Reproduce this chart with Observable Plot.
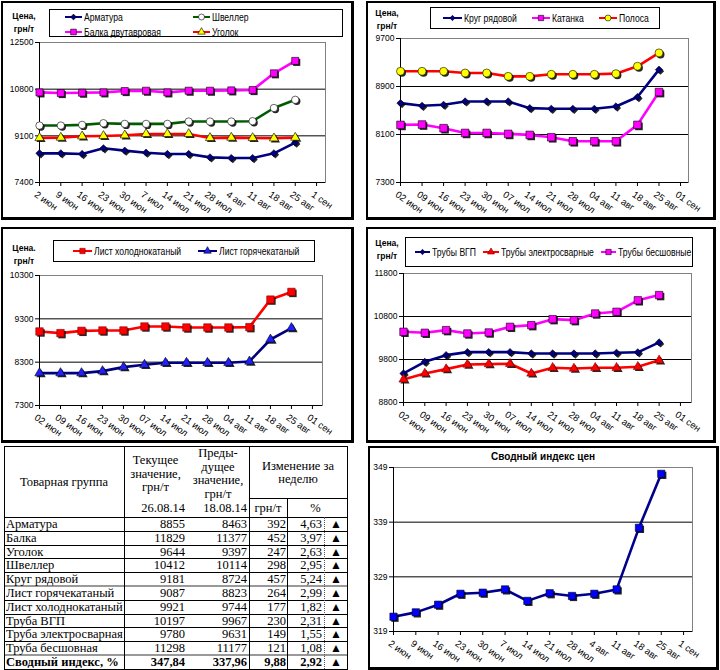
<!DOCTYPE html>
<html><head><meta charset="utf-8">
<script src="https://cdn.jsdelivr.net/npm/d3@7"></script>
<script src="https://cdn.jsdelivr.net/npm/@observablehq/plot@0.6"></script>
<style>
body{margin:0;background:#fff}
#root{position:relative;width:720px;height:670px;overflow:hidden;font-family:Arial,"Liberation Sans",sans-serif;color:#000}
.panel{position:absolute;box-sizing:border-box;border:2px solid #000;border-right-width:3px;border-bottom-width:3px}
.t{position:absolute;white-space:nowrap}
.lg{position:absolute;box-sizing:border-box;border:1px solid #000;background:#fff}
.ylab{position:absolute;font-weight:bold;font-size:9.5px;line-height:13px;text-align:center;transform:scaleX(.9)}
.tb{position:absolute;white-space:nowrap;font-family:"Liberation Serif","Times New Roman","DejaVu Serif",serif !important;font-size:12.5px;line-height:13px}
</style></head>
<body><div id="root"></div>
<script>
// ---------- data ----------
const dates = ["2 июн","9 июн","16 июн","23 июн","30 июн","7 июл","14 июл","21 июл","28 июл","4 авг","11 авг","18 авг","25 авг","1 сен"];
const dates0 = ["02 июн","09 июн","16 июн","23 июн","30 июн","07 июл","14 июл","21 июл","28 июл","04 авг","11 авг","18 авг","25 авг","01 сен"];

const armatura = [8462,8462,8437,8645,8560,8486,8437,8437,8315,8291,8291,8463,8855];
const shveller = [9474,9474,9499,9560,9535,9535,9535,9621,9621,9621,9633,10114,10412];
const balka    = [10682,10658,10670,10682,10731,10743,10682,10743,10743,10755,10767,11377,11829];
const ugolok   = [9023,9035,9084,9096,9121,9169,9169,9169,9023,9035,9023,9011,9035];
const ticks1   = [7400,9100,10800,12500];

const krug     = [8623,8578,8595,8651,8651,8651,8539,8528,8528,8528,8567,8724,9181];
const katanka  = [8260,8266,8205,8126,8126,8110,8093,8054,7987,7987,7987,8260,8807];
const polosa   = [9153,9153,9153,9125,9125,9069,9069,9103,9103,9103,9114,9237,9460];
const ticks2   = [7300,8100,8900,9700];

const listHol  = [9008,8970,9023,9031,9031,9123,9123,9100,9100,9100,9108,9744,9921];
const listGor  = [8047,8047,8047,8093,8185,8239,8285,8285,8285,8285,8316,8823,9087];
const ticks3   = [7300,8300,9300,10300];

const trubyVgp = [9475,9746,9901,9971,9971,9971,9940,9940,9940,9940,9956,9967,10197];
const trubyEl  = [9336,9475,9576,9684,9692,9700,9475,9607,9591,9607,9607,9631,9780];
const trubyBes = [10444,10421,10483,10405,10428,10560,10599,10738,10715,10870,10909,11177,11298];
const ticks4   = [8800,9800,10800,11800];

const indexVals = [321.7,322.5,323.9,325.9,326.1,326.7,324.6,326.0,325.5,325.9,326.7,337.96,347.84];
const ticks6   = [319,329,339,349];

const groups   = ["Арматура","Балка","Уголок","Швеллер","Круг рядовой","Лист горячекатаный","Лист холоднокатаный","Труба ВГП","Труба электросварная","Труба бесшовная","Сводный индекс, %"];
const current  = ["8855","11829","9644","10412","9181","9087","9921","10197","9780","11298","347,84"];
const previous = ["8463","11377","9397","10114","8724","8823","9744","9967","9631","11177","337,96"];
const changeAbs= ["392","452","247","298","457","264","177","230","149","121","9,88"];
const changePct= ["4,63","3,97","2,63","2,95","5,24","2,99","1,82","2,31","1,55","1,08","2,92"];

// ---------- helpers ----------
const root = document.getElementById("root");
const FONT = 'Arial,"Liberation Sans",sans-serif';
const SERIF = '"Liberation Serif","Times New Roman","DejaVu Serif",serif';
function el(cls, css, html){const d=document.createElement("div");d.className=cls;Object.assign(d.style,css);if(html!=null)d.innerHTML=html;root.appendChild(d);return d;}
const px = v => v + "px";
const symType = {square:d3.symbolSquare, circle:d3.symbolCircle, triangle:d3.symbolTriangle, diamond2:d3.symbolDiamond2};

function panel(l,t,r,b){el("panel",{left:px(l),top:px(t),width:px(r-l),height:px(b-t)});}

function legend(box, items){
  el("lg",{left:px(box[0]),top:px(box[1]),width:px(box[2]-box[0]),height:px(box[3]-box[1])});
  for(const it of items){
    const [x1,x2,tx,cy] = it.pos;
    const s = d3.create("svg").attr("width",x2-x1+8).attr("height",14)
      .style("position","absolute").style("left",px(x1-4)).style("top",px(cy-7)).style("overflow","visible");
    s.append("line").attr("x1",4).attr("x2",x2-x1+4).attr("y1",7).attr("y2",7).attr("stroke",it.color).attr("stroke-width",2);
    const m=(x2-x1)/2+4;
    s.append("path").attr("d",d3.symbol().type(symType[it.symbol]).size(Math.PI*it.lr*it.lr)())
      .attr("transform",`translate(${m},7)`).attr("fill",it.fill).attr("stroke",it.mstroke||"#000").attr("stroke-width",0.6);
    root.appendChild(s.node());
    el("t",{left:px(tx),top:px(cy-6.5),fontSize:"10.5px",lineHeight:"12px",transform:"scaleX(.82)",transformOrigin:"left center"},it.name);
  }
}

function chart(cfg){
  const {left,top,width,height,ml,mr,mt,mb,ticks,labels,series,xMax} = cfg;
  const marks = [
    Plot.frame({stroke:"#808080"}),
    Plot.ruleY(ticks.slice(1,-1),{stroke:"#000",strokeWidth:1}),
    Plot.axisY({ticks, tickSize:4, tickPadding:2, label:null, fontSize:8.5, tickFormat:d=>String(d)}),
    Plot.axisX({ticks:d3.range(labels.length), tickSize:4, tickFormat:()=>"", label:null}),
    Plot.ruleX([0],{stroke:"#000"}),
    Plot.ruleY([ticks[0]],{stroke:"#000"}),
    Plot.text(labels,{x:(d,i)=>i, frameAnchor:"bottom", text:d=>d, rotate:35, textAnchor:"start", lineAnchor:"top", dx:-2, dy:8, fontSize:9.5})
  ];
  for(const s of series){
    const data = s.values.map((v,i)=>({i,v}));
    marks.push(Plot.line(data,{x:"i",y:"v",stroke:s.color,strokeWidth:s.sw||2.6}));
  }
  for(const s of series){
    const data = s.values.map((v,i)=>({i,v}));
    marks.push(Plot.dot(data,{x:"i",y:"v",symbol:s.symbol,r:s.r,fill:"#000",fillOpacity:0.85,dx:1.5,dy:1.5}));
    marks.push(Plot.dot(data,{x:"i",y:"v",symbol:s.symbol,r:s.r,fill:s.fill,stroke:s.mstroke||"#000",strokeWidth:0.6}));
  }
  const svg = Plot.plot({
    width, height, marginLeft:ml, marginRight:mr, marginTop:mt, marginBottom:mb,
    x:{domain:[0,xMax], axis:null}, y:{domain:[ticks[0],ticks[ticks.length-1]], axis:null},
    style:{fontFamily:FONT, fontSize:"9px", background:"transparent", color:"#000", overflow:"visible"},
    marks
  });
  svg.style.position="absolute"; svg.style.left=px(left); svg.style.top=px(top);
  root.appendChild(svg);
}

const NAVY="#000080", BLUE="#0000ff", MAG="#ff00ff", RED="#ff0000", YEL="#ffff00", GRN="#005a00";

// ---------- panels ----------
panel(1,1,354,220);
panel(366,1,716,220);
panel(1,227,354,443);
panel(366,227,716,443);
panel(368,446,719,670);

// Panel 1
chart({left:0,top:0,width:360,height:220,ml:39,mr:35,mt:42,mb:38,ticks:ticks1,labels:dates,xMax:13.42,
  series:[
    {values:armatura,color:NAVY,symbol:"diamond2",r:3.3,fill:NAVY},
    {values:shveller,color:GRN,symbol:"circle",r:3.7,fill:"#fff"},
    {values:balka,color:MAG,symbol:"square",r:4,fill:MAG},
    {values:ugolok,color:RED,symbol:"triangle",r:3.4,fill:YEL}
  ]});
el("ylab",{left:px(9),top:px(9),width:px(30)},"Цена,<br>грн/т");
legend([49,9,343,37],[
  {name:"Арматура",pos:[65,82,84,17],color:NAVY,symbol:"diamond2",lr:2.6,fill:NAVY},
  {name:"Швеллер",pos:[193,210,212,17],color:GRN,symbol:"circle",lr:3,fill:"#fff"},
  {name:"Балка двутавровая",pos:[65,82,84,32],color:MAG,symbol:"square",lr:3.2,fill:MAG},
  {name:"Уголок",pos:[193,210,212,32],color:RED,symbol:"triangle",lr:2.8,fill:YEL}
]);

// Panel 2
chart({left:360,top:0,width:360,height:220,ml:40,mr:32,mt:38,mb:38,ticks:ticks2,labels:dates0,xMax:13.37,
  series:[
    {values:polosa,color:RED,symbol:"circle",r:4,fill:YEL},
    {values:krug,color:NAVY,symbol:"diamond2",r:3.3,fill:NAVY},
    {values:katanka,color:MAG,symbol:"square",r:4.3,fill:MAG}
  ]});
el("ylab",{left:px(372),top:px(6),width:px(30)},"Цена,<br>грн/т");
legend([430,7,660,29],[
  {name:"Круг рядовой",pos:[443,462,464,18],color:NAVY,symbol:"diamond2",lr:2.4,fill:NAVY},
  {name:"Катанка",pos:[532,550,552,18],color:MAG,symbol:"square",lr:3,fill:MAG},
  {name:"Полоса",pos:[599,617,619,18],color:RED,symbol:"circle",lr:3,fill:YEL}
]);

// Panel 3
chart({left:0,top:225,width:360,height:220,ml:39,mr:38,mt:50,mb:40,ticks:ticks3,labels:dates0,xMax:13.48,
  series:[
    {values:listHol,color:RED,symbol:"square",r:4.2,fill:RED,mstroke:"#800000"},
    {values:listGor,color:NAVY,symbol:"triangle",r:3.5,fill:"#2020ff"}
  ]});
el("ylab",{left:px(9),top:px(241),width:px(30)},"Цена.<br>грн/т");
legend([53,240,315,262],[
  {name:"Лист холоднокатаный",pos:[73,92,94,251],color:RED,symbol:"square",lr:3,fill:RED,mstroke:"#800000"},
  {name:"Лист горячекатаный",pos:[198,217,219,251],color:NAVY,symbol:"triangle",lr:2.8,fill:"#2020ff"}
]);

// Panel 4
chart({left:360,top:225,width:360,height:220,ml:43,mr:29,mt:48,mb:43,ticks:ticks4,labels:dates0,xMax:13.52,
  series:[
    {values:trubyBes,color:MAG,symbol:"square",r:4.2,fill:MAG},
    {values:trubyVgp,color:NAVY,symbol:"diamond2",r:3.3,fill:NAVY},
    {values:trubyEl,color:RED,symbol:"triangle",r:3.4,fill:RED,mstroke:"#800000"}
  ]});
el("ylab",{left:px(372),top:px(236),width:px(30)},"Цена,<br>грн/т");
legend([405,237,693,267],[
  {name:"Трубы ВГП",pos:[415,430,432,252],color:NAVY,symbol:"diamond2",lr:2.4,fill:NAVY},
  {name:"Трубы электросварные",pos:[483,499,501,252],color:RED,symbol:"triangle",lr:2.6,fill:RED,mstroke:"#800000"},
  {name:"Трубы бесшовные",pos:[601,616,618,252],color:MAG,symbol:"square",lr:3,fill:MAG}
]);

// Panel 6
chart({left:360,top:440,width:360,height:230,ml:33,mr:28,mt:27,mb:39,ticks:ticks6,labels:dates,xMax:13.4,
  series:[
    {values:indexVals,color:"#00008b",symbol:"square",r:4.1,fill:BLUE}
  ]});
el("t",{left:px(443),top:px(451),width:px(200),textAlign:"center",fontWeight:"bold",fontSize:"10px",lineHeight:"12px"},"Сводный индекс цен");

// ---------- table ----------
function hl(x1,x2,y,c,w){el("t",{left:px(x1),top:px(y),width:px(x2-x1),height:px(w||1),background:c||"#000"});}
function vl(x,y1,y2,c,w,dash){el("t",{left:px(x),top:px(y1),width:"0px",height:px(y2-y1),borderLeft:`${w||1}px ${dash?"dotted":"solid"} ${c||"#000"}`});}
function tt(txt,css){return el("tb",Object.assign({fontFamily:SERIF},css),txt);}

const T0=517, RH=13.8;
hl(4,348,446); hl(249,348,498); hl(4,348,T0);
for(let k=1;k<=11;k++){
  const y=Math.round(T0+k*RH);
  if(k===5||k===10) hl(4,348,y-1,"#999",2); else hl(4,348,y);
}
vl(4,446,670); vl(124,446,670); vl(249,446,670); vl(287,498,670); vl(347,446,670);
vl(324,T0,Math.round(T0+11*RH),"#555",1,true);

tt("Товарная группа",{left:px(4),top:px(476),width:px(120),textAlign:"center"});
["Текущее","значение,","грн/т"].forEach((s,i)=>tt(s,{left:px(124),top:px(454+i*13.5),width:px(63),textAlign:"center"}));
tt("26.08.14",{left:px(124),top:px(502),width:px(61),textAlign:"right"});
["Преды-","дущее","значение,","грн/т"].forEach((s,i)=>tt(s,{left:px(187),top:px(447+i*13.5),width:px(62),textAlign:"center"}));
tt("18.08.14",{left:px(187),top:px(502),width:px(60),textAlign:"right"});
["Изменение за","неделю"].forEach((s,i)=>tt(s,{left:px(249),top:px(460+i*13),width:px(98),textAlign:"center"}));
tt("грн/т",{left:px(249),top:px(502),width:px(38),textAlign:"center"});
tt("%",{left:px(287),top:px(502),width:px(57),textAlign:"center"});

groups.forEach((g,k)=>{
  const y=T0+k*RH+1;
  const bold = k===groups.length-1 ? {fontWeight:"bold"} : {};
  tt(g,{left:px(6),top:px(y),...bold});
  tt(current[k],{left:px(124),top:px(y),width:px(61),textAlign:"right",...bold});
  tt(previous[k],{left:px(187),top:px(y),width:px(60),textAlign:"right",...bold});
  tt(changeAbs[k],{left:px(249),top:px(y),width:px(37),textAlign:"right",...bold});
  tt(changePct[k],{left:px(287),top:px(y),width:px(35),textAlign:"right",...bold});
  tt("▲",{left:px(325),top:px(y),width:px(22),textAlign:"center",fontSize:"12px",fontFamily:"'DejaVu Sans',sans-serif"});
});
</script>
</body></html>
